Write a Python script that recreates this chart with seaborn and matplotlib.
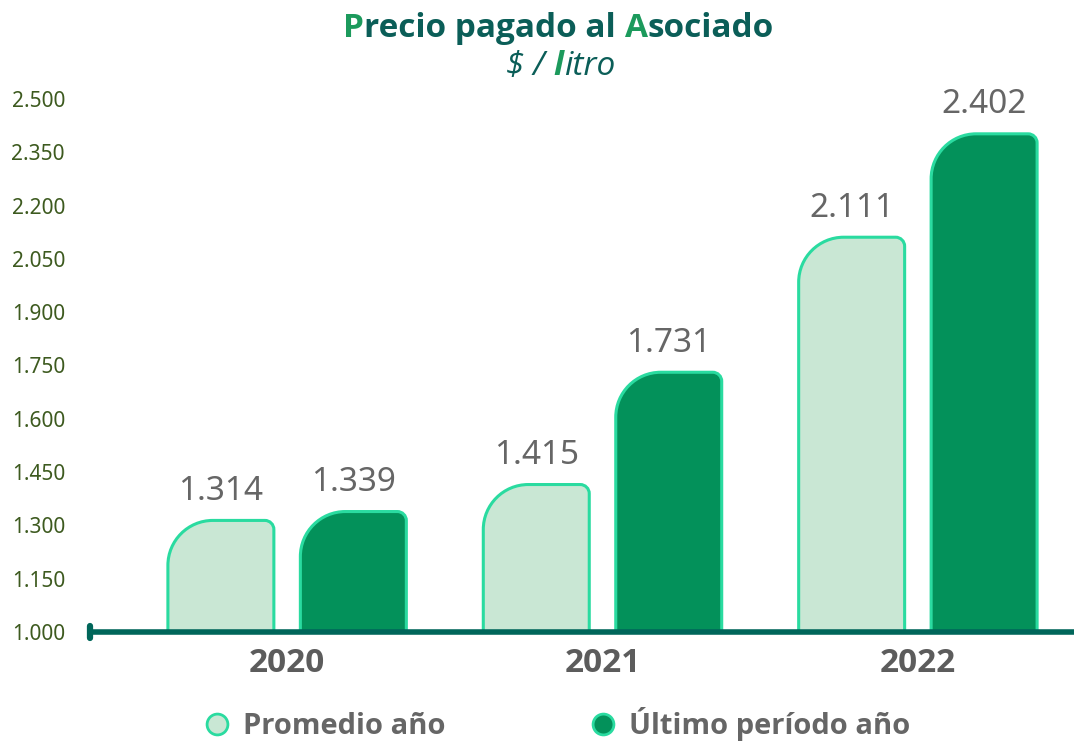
import matplotlib
matplotlib.use("Agg")
import matplotlib.pyplot as plt
import seaborn as sns
import pandas as pd
from matplotlib.path import Path
from matplotlib.patches import PathPatch
from matplotlib.lines import Line2D
from matplotlib.offsetbox import TextArea, HPacker, AnnotationBbox

# data ($ / litro)
years = ["2020", "2021", "2022"]
promedio = [1314, 1415, 2111]
ultimo = [1339, 1731, 2402]
series = ["Promedio año", "Último período año"]
yticks = [1000, 1150, 1300, 1450, 1600, 1750, 1900, 2050, 2200, 2350, 2500]

df = pd.DataFrame({
    "year": years * 2,
    "serie": [series[0]] * 3 + [series[1]] * 3,
    "value": promedio + ultimo,
})

light = "#c9e7d4"
dark = "#03915a"
mint = "#2adba0"
teal = "#0b5e58"
green = "#1c9a5c"

def fmt(v):
    return f"{v:,.0f}".replace(",", ".")

sns.set_style("white")
plt.rcParams["font.family"] = ["Open Sans", "DejaVu Sans"]

fig = plt.figure(figsize=(10.74, 7.42), dpi=100)
ax = fig.add_axes([90 / 1074, 110 / 742, 1 - 90 / 1074, 533 / 742])

sns.barplot(df, x="year", y="value", hue="serie", order=years, hue_order=series,
            palette={series[0]: light, series[1]: dark}, width=0.84, gap=0.2,
            saturation=1, legend=False, ax=ax)

ax.set_xlim(-0.625, 2.495)
ax.set_ylim(1000, 2500)

# px per data unit, for rounded corners
p0 = ax.transData.transform((0, 0))
p1 = ax.transData.transform((1, 1))
sx, sy = p1[0] - p0[0], p1[1] - p0[1]
k = 0.5523


def rounded_bar(x0, x1, y0, y1, rl, rr):
    lx, ly = rl / sx, rl / sy
    rx, ry = rr / sx, rr / sy
    verts = [(x0, y0), (x0, y1 - ly),
             (x0, y1 - ly + k * ly), (x0 + lx - k * lx, y1), (x0 + lx, y1),
             (x1 - rx, y1),
             (x1 - rx + k * rx, y1), (x1, y1 - ry + k * ry), (x1, y1 - ry),
             (x1, y0), (x0, y0)]
    codes = [Path.MOVETO, Path.LINETO,
             Path.CURVE4, Path.CURVE4, Path.CURVE4,
             Path.LINETO,
             Path.CURVE4, Path.CURVE4, Path.CURVE4,
             Path.LINETO, Path.CLOSEPOLY]
    return Path(verts, codes)


for p in list(ax.patches):
    x, w, h = p.get_x(), p.get_width(), p.get_height()
    fc = p.get_facecolor()
    p.remove()
    shape = PathPatch(rounded_bar(x, x + w, 1000, h, 45, 9), facecolor=fc,
                      edgecolor=mint, linewidth=2.2, zorder=2)
    ax.add_patch(shape)
    ax.annotate(fmt(h), (x + w / 2, h), xytext=(0, 9), textcoords="offset points",
                ha="center", va="bottom", fontsize=24, color="#666666",
                family=["Noto Sans", "DejaVu Sans"], clip_on=False)

# axes styling
sns.despine(ax=ax, left=True)
ax.spines["bottom"].set_color("#00665a")
ax.spines["bottom"].set_linewidth(4)
ax.spines["bottom"].set_zorder(3)
ax.plot([0, 0], [-0.011, 0.011], transform=ax.transAxes, color="#00665a",
        linewidth=4.5, solid_capstyle="round", clip_on=False, zorder=4)

ax.set_yticks(yticks, labels=[fmt(v) for v in yticks])
ax.tick_params(axis="y", length=0, pad=18, labelsize=15, labelcolor="#3d5a1f")
ax.tick_params(axis="x", length=0, pad=11, labelsize=24, labelcolor="#5c5c5c")
for t in ax.get_xticklabels():
    t.set_fontweight("bold")
for t in ax.get_yticklabels():
    t.set_family(["Noto Sans", "DejaVu Sans"])
ax.set_xlabel("")
ax.set_ylabel("")
ax.grid(False)

# title with coloured initials
tb = dict(fontsize=24, fontweight="bold")
title = HPacker(children=[TextArea("P", textprops=dict(color=green, **tb)),
                          TextArea("recio pagado al ", textprops=dict(color=teal, **tb)),
                          TextArea("A", textprops=dict(color=green, **tb)),
                          TextArea("sociado", textprops=dict(color=teal, **tb))],
                pad=0, sep=0, align="baseline")
fig.add_artist(AnnotationBbox(title, (0.52, 0.962), xycoords="figure fraction",
                              frameon=False, box_alignment=(0.5, 0.5)))

ti = dict(fontsize=24, fontstyle="italic")
sub = HPacker(children=[TextArea("$ / ", textprops=dict(color=teal, **ti)),
                        TextArea("l", textprops=dict(color=green, fontweight="bold", **ti)),
                        TextArea("itro", textprops=dict(color=teal, **ti))],
              pad=0, sep=0, align="baseline")
fig.add_artist(AnnotationBbox(sub, (0.522, 0.91), xycoords="figure fraction",
                              frameon=False, box_alignment=(0.5, 0.5)))

# legend
handles = [Line2D([], [], marker="o", linestyle="", markersize=15, markerfacecolor=c,
                  markeredgecolor=mint, markeredgewidth=2, label=s)
           for c, s in zip([light, dark], series)]
leg = fig.legend(handles=handles, loc="center", bbox_to_anchor=(0.518, 0.024), ncol=2,
                 frameon=False, fontsize=21, handlelength=1, handletextpad=0.4,
                 columnspacing=4.9)
for t in leg.get_texts():
    t.set_color("#666666")
    t.set_fontweight("bold")

plt.savefig("out.png", dpi=100)
